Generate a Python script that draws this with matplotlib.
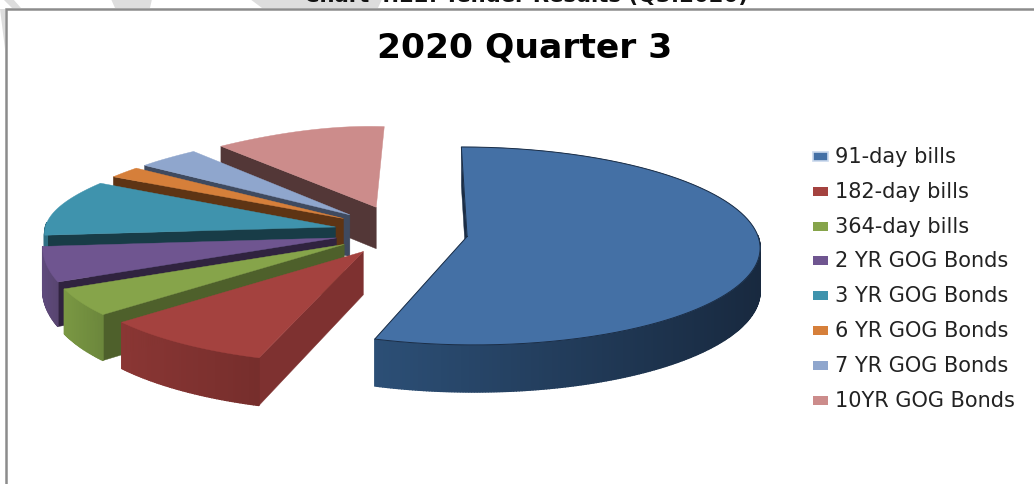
import numpy as np
import matplotlib
matplotlib.use("Agg")
import matplotlib.pyplot as plt
from matplotlib.patches import Rectangle

# share of tenders per instrument, in percent
labels = ["91-day bills", "182-day bills", "364-day bills", "2 YR GOG Bonds",
          "3 YR GOG Bonds", "6 YR GOG Bonds", "7 YR GOG Bonds", "10YR GOG Bonds"]
shares = [55.0, 8.7, 4.4, 5.1, 8.9, 1.8, 3.5, 12.6]

top_colors = ["#4470A5", "#A4423F", "#86A44A", "#6F5590",
              "#3F93AD", "#D67F3A", "#8FA6CD", "#CC8C8B"]
wall_colors = ["#1B2D45", "#7E3130", "#4E602B", "#30233F",
               "#183C47", "#5E3414", "#3F4A5F", "#533737"]
rim_left = ["#2C4F76", "#8A3634", "#7A9843", "#5F4A7C",
            "#2F6F83", "#A0602B", "#6C7D9A", "#996A69"]
rim_right = ["#18293F", "#762E2C", "#6C873C", "#584570",
             "#2F6F83", "#A0602B", "#6C7D9A", "#996A69"]

# layout of the tilted pie, in pixels
CX, CY = 401, 234
RX, RY = 290, 97.4
PERSPECTIVE = 0.095
DEPTH = 42.5
EXPLODE = 0.23
BACK_LEFT_PINCH = 0.187
LEFT_LIFT = 6
BACK_APEX = 1.25


# plane position to screen position, depth pushes the point down to the base
def project(u, v, depth=0):
    u = np.asarray(u, dtype=float)
    v = np.asarray(v, dtype=float)
    s = 1 / (1 - PERSPECTIVE * v)
    # the far left quarter recedes faster than the rest of the disc
    sx = s * np.where((u < 0) & (v < 0), 1 - BACK_LEFT_PINCH * v ** 2, 1)
    lift = LEFT_LIFT * np.clip(-u, 0, 1) * np.clip(1 - 2 * v, 0, 1)
    return CX + RX * u * sx, CY + RY * v * s + depth * s - lift


def lerp_color(c1, c2, t):
    a = np.array(matplotlib.colors.to_rgb(c1))
    b = np.array(matplotlib.colors.to_rgb(c2))
    return tuple(a + (b - a) * t)


def draw_slice(ax, start, end, i):
    mid = np.radians((start + end) / 2)
    ou, ov = EXPLODE * np.sin(mid), -EXPLODE * np.cos(mid)
    angles = np.radians(np.linspace(start, end, max(int(end - start) * 2, 12)))
    us = ou + np.sin(angles)
    vs = ov - np.cos(angles)

    xt, yt = project(us, vs)
    xb, yb = project(us, vs, DEPTH)
    # tips of the back slices sit a little further away
    tip_v = ov * BACK_APEX if ov < 0 else ov
    ax0, ay0 = project(ou, tip_v)
    bx0, by0 = project(ou, tip_v, DEPTH)

    # only the leading radial wall ever faces the viewer
    ax.fill([xt[0], ax0, bx0, xb[0]], [yt[0], ay0, by0, yb[0]],
            color=wall_colors[i], lw=0.3)

    # outer rim as narrow strips so the shade can run across it, back part skipped
    facing = -np.cos(angles) > -0.02
    if facing.any():
        x_lo, x_hi = xt[facing].min(), xt[facing].max()
        for k in range(len(angles) - 1):
            if not (facing[k] and facing[k + 1]):
                continue
            t = np.clip((xt[k] - x_lo) / max(x_hi - x_lo, 1), 0, 1)
            col = lerp_color(rim_left[i], rim_right[i], t)
            ax.fill([xt[k], xt[k + 1], xb[k + 1], xb[k]],
                    [yt[k], yt[k + 1], yb[k + 1], yb[k]], color=col, lw=1)

    ax.fill(np.r_[ax0, xt], np.r_[ay0, yt], color=top_colors[i], lw=0.3)
    if i == 0:
        ax.plot(np.r_[ax0, xt, ax0], np.r_[ay0, yt, ay0], color="#1B2D45", lw=0.7)


fig = plt.figure(figsize=(10.34, 4.85), dpi=100)
ax = fig.add_axes([0, 0, 1, 1])
ax.set_xlim(0, 1034)
ax.set_ylim(485, 0)
ax.axis("off")

# grey bands behind the page, cut off by the chart box
for px, py in [([0, 5, 5], [10, 10, 50]),
               ([3, 13, 21, 12], [0, 0, 9, 9]),
               ([111, 152, 150, 115], [0, 0, 9, 9]),
               ([250, 382, 378, 262], [0, 0, 9, 9])]:
    ax.fill(px, py, color="#DDDDDD", lw=0)

ax.text(526, 2, "Chart 4.22: Tender Results (Q3:2020)", ha="center", va="baseline",
        fontsize=15.2, fontweight="bold", color="#111111")

# chart box, only the top and left edges fall inside the crop
ax.plot([1034, 6, 6], [10, 10, 485], color="#8C8C8C", lw=1.8, solid_joinstyle="miter")

ax.text(525, 58, "2020 Quarter 3", ha="center", va="baseline",
        fontsize=24.8, fontweight="bold", color="black")

# slices run clockwise from twelve o'clock, back ones are drawn first
edges = np.r_[0, np.cumsum(shares)] / np.sum(shares) * 360
order = sorted(range(len(shares)),
               key=lambda n: -np.cos(np.radians((edges[n] + edges[n + 1]) / 2)))
for i in order:
    draw_slice(ax, edges[i], edges[i + 1], i)

# legend
for i, name in enumerate(labels):
    y = 157 + i * 34.8
    halo = "#C9D8EC" if i == 0 else "none"
    ax.add_patch(Rectangle((813, y - 4), 15, 9, facecolor=top_colors[i], edgecolor=halo, lw=1.2))
    ax.text(835, y, name, va="center", ha="left", fontsize=15, color="#222222")

fig.savefig("out.png", dpi=100)
